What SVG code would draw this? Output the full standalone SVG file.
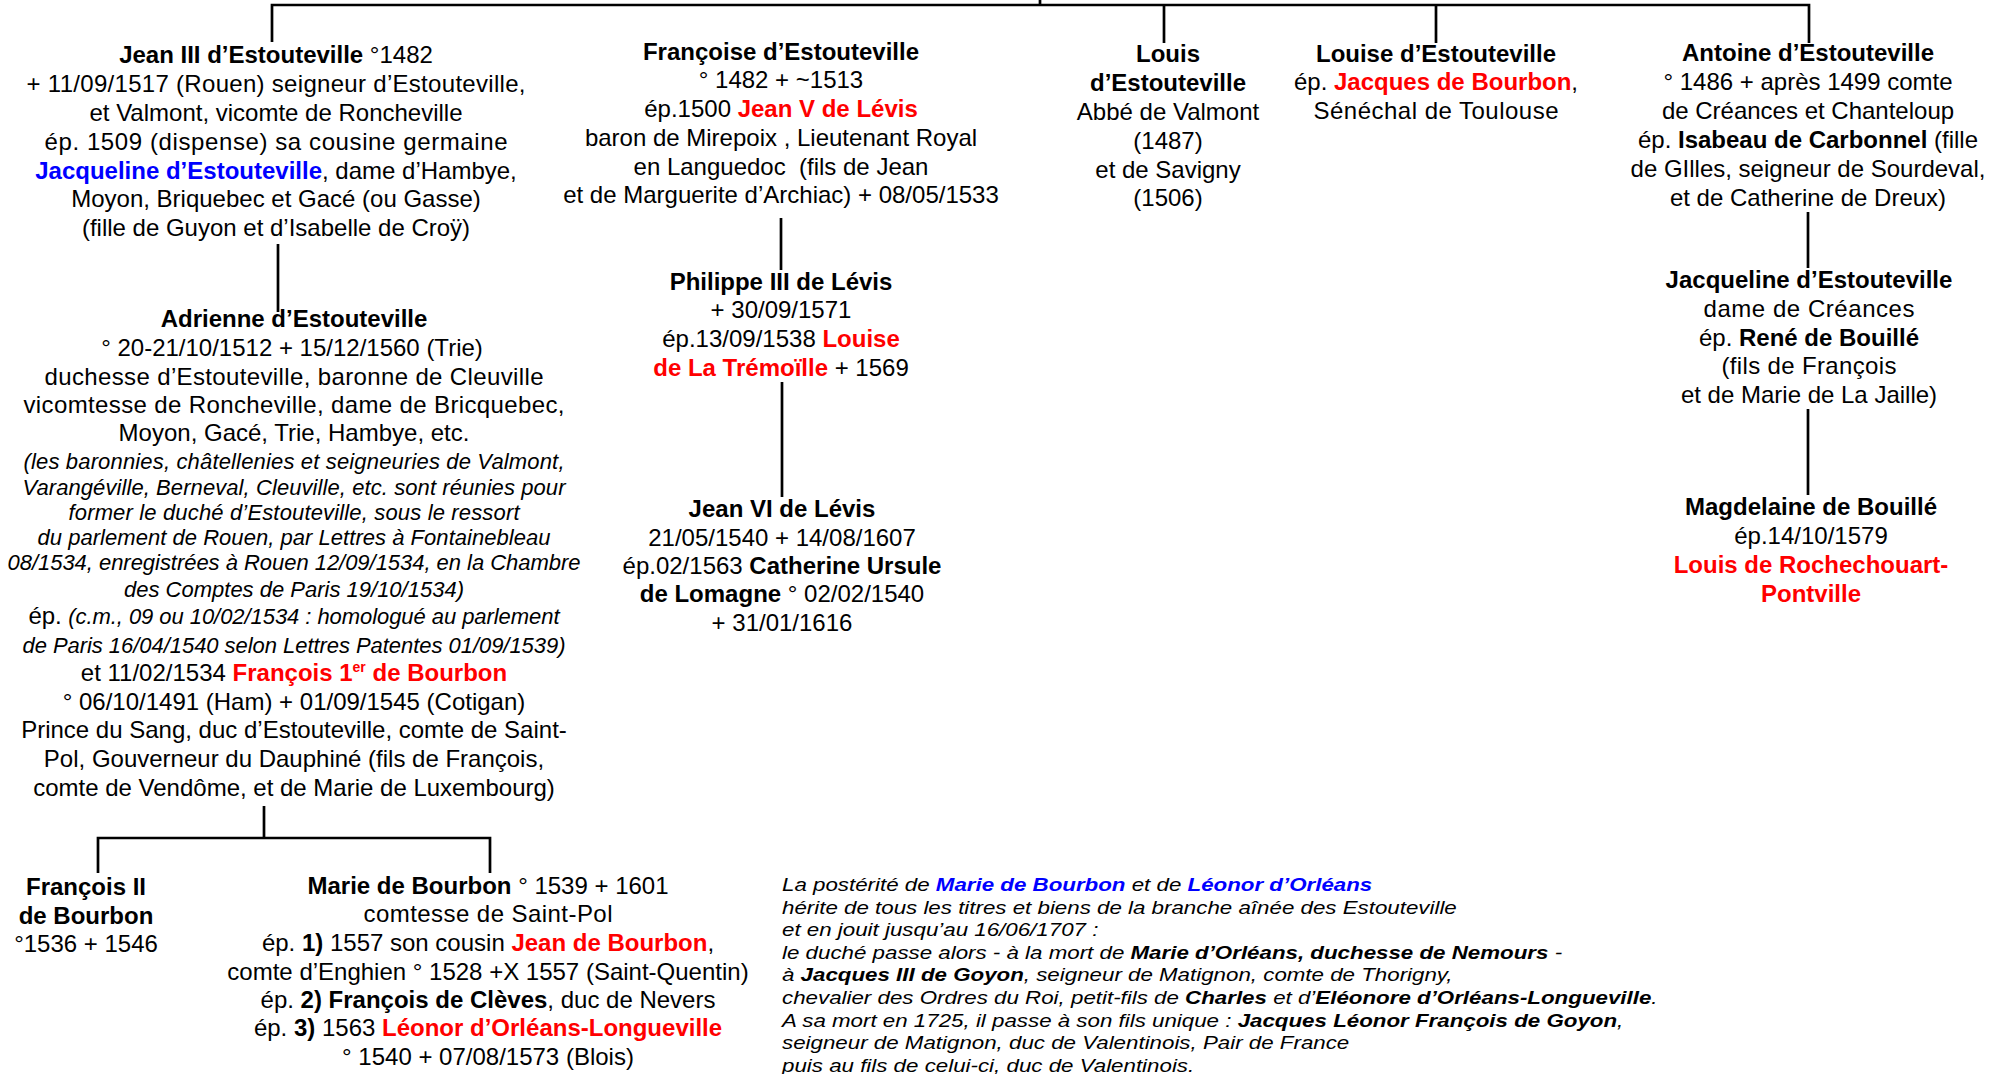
<svg xmlns="http://www.w3.org/2000/svg" width="2011" height="1074" viewBox="0 0 2011 1074">
<style>
text{font-family:"Liberation Sans",Arial,sans-serif;font-size:24px;fill:#000}
.c{text-anchor:middle}
.b{font-weight:bold}
.i{font-style:italic;font-size:22px}
.r{fill:#ff0000;font-weight:bold}
.u{fill:#0000ff;font-weight:bold}
.ln{stroke:#000;stroke-width:2.7;fill:none}
.p text{font-size:19px;font-style:italic}
</style>
<rect width="2011" height="1074" fill="#fff"/>
<g id="connectors" class="ln">
<path d="M272,42 V5 H1809 V43"/>
<path d="M1040,0 V5"/>
<path d="M1164,5 V43"/>
<path d="M1436,5 V43"/>
<path d="M278,244 V312"/>
<path d="M781,218 V270"/>
<path d="M782,382 V497"/>
<path d="M1808,212 V268"/>
<path d="M1808,409 V495"/>
<path d="M264,806 V838"/>
<path d="M98,873 V838 H490 V873"/>
</g>
<g id="jean3" class="c">
<text x="276" y="63" class="c"><tspan class="b">Jean III d’Estouteville</tspan> °1482</text>
<text x="276" y="91.5" class="c" textLength="499" lengthAdjust="spacing">+ 11/09/1517 (Rouen) seigneur d’Estouteville,</text>
<text x="276" y="120.5" class="c">et Valmont, vicomte de Roncheville</text>
<text x="276" y="150" class="c" textLength="463" lengthAdjust="spacing">ép. 1509 (dispense) sa cousine germaine</text>
<text x="276" y="179" class="c"><tspan class="u">Jacqueline d’Estouteville</tspan>, dame d’Hambye,</text>
<text x="276" y="207" class="c">Moyon, Briquebec et Gacé (ou Gasse)</text>
<text x="276" y="236" class="c">(fille de Guyon et d’Isabelle de Croÿ)</text>
</g>
<g id="francoise">
<text x="781" y="60" class="c b">Françoise d’Estouteville</text>
<text x="781" y="88" class="c">° 1482 + ~1513</text>
<text x="781" y="117" class="c">ép.1500 <tspan class="r">Jean V de Lévis</tspan></text>
<text x="781" y="146" class="c">baron de Mirepoix , Lieutenant Royal</text>
<text x="781" y="175" class="c">en Languedoc&#160; (fils de Jean</text>
<text x="781" y="203" class="c">et de Marguerite d’Archiac) + 08/05/1533</text>
</g>
<g id="louis">
<text x="1168" y="62" class="c b">Louis</text>
<text x="1168" y="91" class="c b">d’Estouteville</text>
<text x="1168" y="120" class="c">Abbé de Valmont</text>
<text x="1168" y="149" class="c">(1487)</text>
<text x="1168" y="178" class="c">et de Savigny</text>
<text x="1168" y="206" class="c">(1506)</text>
</g>
<g id="louise">
<text x="1436" y="62" class="c b">Louise d’Estouteville</text>
<text x="1436" y="90" class="c">ép. <tspan class="r">Jacques de Bourbon</tspan>,</text>
<text x="1436" y="118.5" class="c" textLength="245" lengthAdjust="spacing">Sénéchal de Toulouse</text>
</g>
<g id="antoine">
<text x="1808" y="61" class="c b">Antoine d’Estouteville</text>
<text x="1808" y="90" class="c">° 1486 + après 1499 comte</text>
<text x="1808" y="119" class="c">de Créances et Chanteloup</text>
<text x="1808" y="148" class="c">ép. <tspan class="b">Isabeau de Carbonnel</tspan> (fille</text>
<text x="1808" y="177" class="c">de GIlles, seigneur de Sourdeval,</text>
<text x="1808" y="206" class="c">et de Catherine de Dreux)</text>
</g>
<g id="adrienne">
<text x="294" y="327" class="c b">Adrienne d’Estouteville</text>
<text x="292" y="356" class="c">° 20-21/10/1512 + 15/12/1560 (Trie)</text>
<text x="294" y="385" class="c" textLength="499" lengthAdjust="spacing">duchesse d’Estouteville, baronne de Cleuville</text>
<text x="294" y="413" class="c" textLength="541" lengthAdjust="spacing">vicomtesse de Roncheville, dame de Bricquebec,</text>
<text x="294" y="441" class="c">Moyon, Gacé, Trie, Hambye, etc.</text>
<text x="294" y="469" class="c i" textLength="541" lengthAdjust="spacing">(les baronnies, châtellenies et seigneuries de Valmont,</text>
<text x="294" y="494.5" class="c i" textLength="543" lengthAdjust="spacing">Varangéville, Berneval, Cleuville, etc. sont réunies pour</text>
<text x="294" y="520" class="c i" textLength="451" lengthAdjust="spacing">former le duché d’Estouteville, sous le ressort</text>
<text x="294" y="545" class="c i" textLength="513" lengthAdjust="spacing">du parlement de Rouen, par Lettres à Fontainebleau</text>
<text x="294" y="570" class="c i" textLength="573" lengthAdjust="spacing">08/1534, enregistrées à Rouen 12/09/1534, en la Chambre</text>
<text x="294" y="597" class="c i">des Comptes de Paris 19/10/1534)</text>
<text x="294" y="624" class="c" textLength="531" lengthAdjust="spacing">ép. <tspan class="i">(c.m., 09 ou 10/02/1534 : homologué au parlement</tspan></text>
<text x="294" y="653" class="c i" textLength="543" lengthAdjust="spacing">de Paris 16/04/1540 selon Lettres Patentes 01/09/1539)</text>
<text x="294" y="681" class="c">et 11/02/1534 <tspan class="r">François 1<tspan font-size="14" dy="-9">er</tspan><tspan dy="9"> de Bourbon</tspan></tspan></text>
<text x="294" y="710" class="c">° 06/10/1491 (Ham) + 01/09/1545 (Cotigan)</text>
<text x="294" y="738" class="c">Prince du Sang, duc d’Estouteville, comte de Saint-</text>
<text x="294" y="767" class="c">Pol, Gouverneur du Dauphiné (fils de François,</text>
<text x="294" y="795.5" class="c">comte de Vendôme, et de Marie de Luxembourg)</text>
</g>
<g id="philippe3">
<text x="781" y="290" class="c b">Philippe III de Lévis</text>
<text x="781" y="318" class="c">+ 30/09/1571</text>
<text x="781" y="347" class="c">ép.13/09/1538 <tspan class="r">Louise</tspan></text>
<text x="781" y="376" class="c"><tspan class="r">de La Trémoïlle</tspan> + 1569</text>
</g>
<g id="jean6">
<text x="782" y="516.5" class="c b">Jean VI de Lévis</text>
<text x="782" y="545.5" class="c">21/05/1540 + 14/08/1607</text>
<text x="782" y="574" class="c">ép.02/1563 <tspan class="b">Catherine Ursule</tspan></text>
<text x="782" y="602" class="c"><tspan class="b">de Lomagne</tspan> ° 02/02/1540</text>
<text x="782" y="630.5" class="c">+ 31/01/1616</text>
</g>
<g id="jacqueline">
<text x="1809" y="287.5" class="c b">Jacqueline d’Estouteville</text>
<text x="1809" y="316.5" class="c" textLength="211" lengthAdjust="spacing">dame de Créances</text>
<text x="1809" y="345.5" class="c">ép. <tspan class="b">René de Bouillé</tspan></text>
<text x="1809" y="374" class="c" textLength="175" lengthAdjust="spacing">(fils de François</text>
<text x="1809" y="403" class="c">et de Marie de La Jaille)</text>
</g>
<g id="magdelaine">
<text x="1811" y="515" class="c b">Magdelaine de Bouillé</text>
<text x="1811" y="544" class="c">ép.14/10/1579</text>
<text x="1811" y="573" class="c r">Louis de Rochechouart-</text>
<text x="1811" y="601.5" class="c r">Pontville</text>
</g>
<g id="francois2">
<text x="86" y="895" class="c b">François II</text>
<text x="86" y="924" class="c b">de Bourbon</text>
<text x="86" y="952" class="c">°1536 + 1546</text>
</g>
<g id="marie">
<text x="488" y="894" class="c"><tspan class="b">Marie de Bourbon</tspan> ° 1539 + 1601</text>
<text x="488" y="922" class="c" textLength="249" lengthAdjust="spacing">comtesse de Saint-Pol</text>
<text x="488" y="951" class="c">ép. <tspan class="b">1)</tspan> 1557 son cousin <tspan class="r">Jean de Bourbon</tspan>,</text>
<text x="488" y="980" class="c">comte d’Enghien ° 1528 +X 1557 (Saint-Quentin)</text>
<text x="488" y="1008" class="c">ép. <tspan class="b">2) François de Clèves</tspan>, duc de Nevers</text>
<text x="488" y="1036" class="c">ép. <tspan class="b">3)</tspan> 1563 <tspan class="r">Léonor d’Orléans-Longueville</tspan></text>
<text x="488" y="1065" class="c">° 1540 + 07/08/1573 (Blois)</text>
</g>
<g id="note" class="p" transform="translate(782,0) scale(1.175,1)">
<text x="0" y="891">La postérité de <tspan class="u">Marie de Bourbon</tspan> et de <tspan class="u">Léonor d’Orléans</tspan></text>
<text x="0" y="913.6">hérite de tous les titres et biens de la branche aînée des Estouteville</text>
<text x="0" y="936.2">et en jouit jusqu’au 16/06/1707 :</text>
<text x="0" y="958.8">le duché passe alors - à la mort de <tspan class="b">Marie d’Orléans, duchesse de Nemours</tspan> -</text>
<text x="0" y="981.4">à <tspan class="b">Jacques III de Goyon</tspan>, seigneur de Matignon, comte de Thorigny,</text>
<text x="0" y="1004">chevalier des Ordres du Roi, petit-fils de <tspan class="b">Charles</tspan> et d’<tspan class="b">Eléonore d’Orléans-Longueville</tspan>.</text>
<text x="0" y="1026.6">A sa mort en 1725, il passe à son fils unique : <tspan class="b">Jacques Léonor François de Goyon</tspan>,</text>
<text x="0" y="1049.2">seigneur de Matignon, duc de Valentinois, Pair de France</text>
<text x="0" y="1071.8">puis au fils de celui-ci, duc de Valentinois.</text>
</g>
</svg>
